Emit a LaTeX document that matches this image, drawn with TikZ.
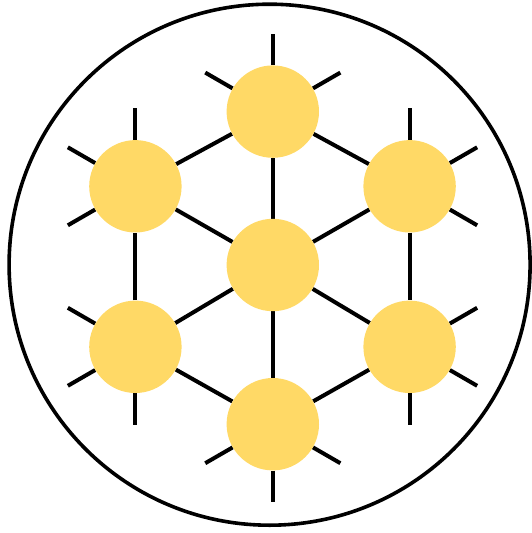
\documentclass[tikz,border=0pt]{standalone}
\usetikzlibrary{calc,backgrounds}
\definecolor{sun}{HTML}{FFD966}
\begin{document}
\begin{tikzpicture}[x=1pt,y=-1pt,
  dot/.style={circle,fill=sun,draw=none,minimum size=92.4pt,inner sep=0pt},
  link/.style={line width=4pt,black}]
\useasboundingbox (0,0) rectangle (532,533);
\node[circle,draw=black,line width=3.6pt,minimum size=521pt,inner sep=0pt] (ring) at (269.6,264.7) {};
% node positions
\coordinate (p1) at (272.8,111.6);
\coordinate (p2) at (409.6,186.3);
\coordinate (p3) at (409.6,346.8);
\coordinate (p4) at (272.8,424.2);
\coordinate (p5) at (135.4,346.8);
\coordinate (p6) at (135.4,186.3);
\node[dot] (c) at (272.8,265) {};
\foreach \i in {1,...,6}{ \node[dot] (n\i) at (p\i) {}; }
% stub ends
\foreach \p/\a in {1/30,1/90,1/150,2/90,2/30,2/-30,3/30,3/-30,3/-90,4/-30,4/-90,4/-150,5/-90,5/-150,5/150,6/-150,6/150,6/90}{
  \coordinate (s\p-\a) at ($(p\p)+({78*cos(\a)},{-78*sin(\a)})$);
}
\begin{scope}[on background layer]
  \foreach \i/\j in {1/2,2/3,3/4,4/5,5/6,6/1}{ \draw[link] (n\i) -- (n\j); }
  \foreach \i in {1,...,6}{ \draw[link] (c) -- (n\i); }
  \foreach \p/\a in {1/30,1/90,1/150,2/90,2/30,2/-30,3/30,3/-30,3/-90,4/-30,4/-90,4/-150,5/-90,5/-150,5/150,6/-150,6/150,6/90}{
    \draw[link] (n\p) -- (s\p-\a);
  }
\end{scope}
\end{tikzpicture}
\end{document}
